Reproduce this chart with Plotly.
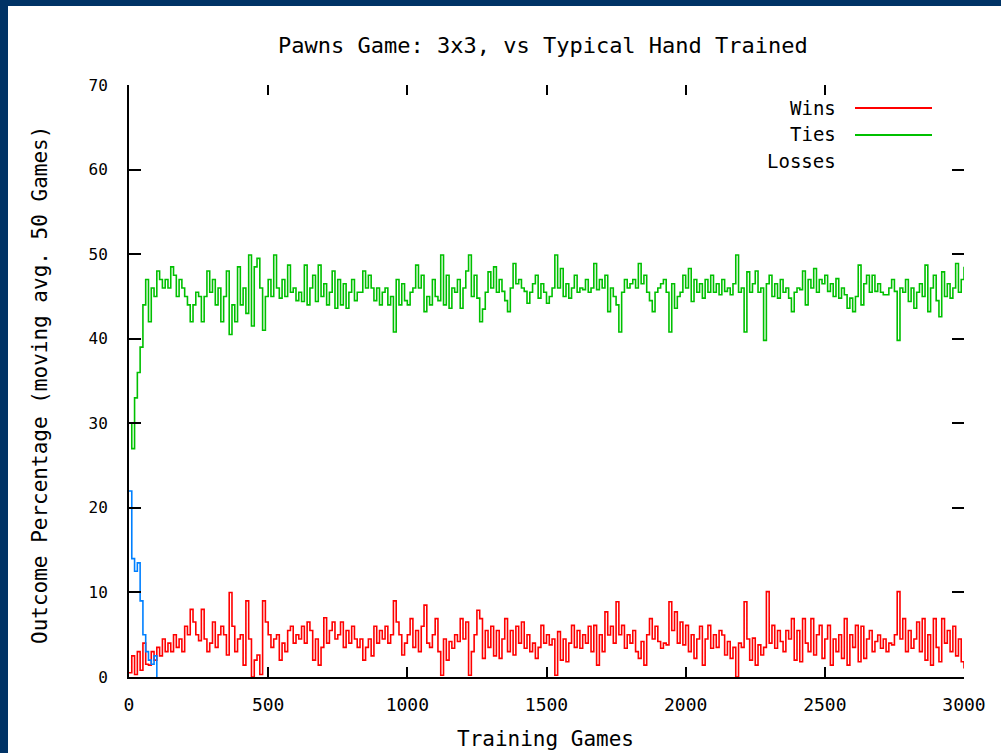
import plotly.graph_objects as go

# ---------------- data ----------------
games = list(range(0, 3001, 10))          # training games (x)
games_losses = list(range(0, 101, 10))

ties = [
    30, 27, 33, 36, 39, 44, 47, 42, 46, 45,
    48, 47, 46, 47, 46, 48.5, 47.5, 45, 47, 46,
    45, 44, 42, 44, 45.5, 45, 42, 45, 48, 45.5,
    47, 44, 46, 42, 45, 48, 40.5, 44, 42, 48.5,
    44, 46, 43, 49.9, 41.5, 48.5, 49.5, 46, 41, 45,
    47, 45, 49.9, 46, 44.8, 47, 45, 48.7, 45.5, 46,
    44.5, 45.5, 44.4, 48.7, 44, 46, 47.5, 44.4, 48.7, 45,
    46.5, 44, 45.5, 48, 43.6, 47, 44, 46.5, 43.6, 45.5,
    47, 44.5, 45.5, 45.5, 48, 46, 47.5, 46, 44.5, 46,
    44, 45.5, 46, 44, 45, 40.8, 47, 44, 46.5, 44.5,
    44, 45.5, 46, 48.7, 46, 47.5, 43.2, 45, 44, 47,
    45, 44.5, 49.9, 44, 47.5, 43.6, 46, 45.5, 47, 43.6,
    46, 48, 49.9, 45, 47.5, 44.8, 42, 43.5, 45.5, 47.9,
    46, 48.5, 45.5, 47, 45.6, 44.5, 43.2, 46, 48.9, 46.5,
    47, 46, 45.6, 44.2, 45.5, 46.5, 47.5, 44.8, 46.5, 45.5,
    44.2, 45, 46, 49.9, 46, 48.3, 45, 46.5, 44.8, 46,
    47.5, 45.5, 46, 45.8, 47, 45.5, 46, 48.9, 45.8, 47,
    46, 47.5, 43.2, 46, 45, 44, 40.8, 45.5, 47, 46,
    46.5, 47, 46, 48.9, 46.5, 47.5, 45.5, 44.5, 43.2, 45.5,
    46, 46.5, 47, 45.5, 40.8, 46.5, 43.6, 45, 45.5, 47.5,
    46, 48.3, 44.4, 47, 45.5, 46.5, 44.8, 47, 45.5, 47.5,
    45.5, 46.5, 45.2, 47, 45.6, 46, 45.2, 46.5, 49.9, 45.5,
    46, 40.8, 47.9, 45.5, 46.5, 48, 45.5, 46, 39.8, 46.5,
    47.5, 45, 46.5, 44.8, 47, 45.5, 46, 44.8, 43.2, 45.5,
    46, 45.8, 48, 44, 47, 46, 48.3, 45.5, 47, 46.5,
    47.5, 45.6, 46.5, 45, 47.1, 44.8, 46, 45.2, 43.6, 44.8,
    43.2, 45, 48.7, 44, 46.5, 47.5, 45.5, 47.5, 45.6, 46.5,
    45.5, 45.2, 45.2, 46, 47, 45.6, 39.8, 46, 45.5, 47,
    44.4, 46, 43.6, 45.5, 46.5, 45, 48.7, 43.2, 46, 47.5,
    44.5, 42.6, 47.9, 45, 46.5, 44.8, 46, 48.9, 45.5, 47,
    48.5,
]

wins = [
    0.5, 2.5, 0.3, 3, 0.8, 4, 1.5, 1.4, 3, 2,
    3.5, 2.5, 4.5, 3, 4, 3, 5, 3.5, 4.5, 3,
    6, 5, 8, 6.5, 5, 4.3, 8, 4.5, 3, 4,
    6.5, 3.5, 5, 6, 5, 2.6, 10, 6, 3, 4.5,
    5, 1.4, 9, 4.5, 0, 2, 2.6, 0.3, 9, 6.5,
    5, 3.5, 4.5, 5, 2, 4, 3, 5.5, 6, 4,
    5, 4.5, 6, 4, 6.5, 5.5, 2, 4.5, 1.4, 3.5,
    7, 4, 5.5, 6.5, 4.5, 5, 6.5, 3.5, 5.5, 4,
    6, 4.5, 3.5, 4.5, 2, 3.5, 4.5, 2.5, 6, 4,
    5.5, 4.5, 6, 4, 5, 9, 6.5, 5, 2.6, 4,
    5, 6.9, 3.5, 5.5, 3, 6, 8.5, 4, 3.5, 5,
    6.9, 3, 0.2, 4.5, 2, 4.2, 3.4, 5, 4.2, 6.9,
    4.5, 6.5, 0.2, 3, 5, 7.9, 6.9, 2.2, 5.5, 3.5,
    6, 2.5, 5.5, 2.2, 4.5, 6.9, 3, 5.5, 2.6, 6,
    4, 6.5, 3.4, 5, 3, 4, 2.2, 3.5, 6.1, 4,
    5, 3.8, 4.5, 0.2, 5.36, 2, 4.5, 1.8, 4, 6.1,
    3.5, 5.5, 3.4, 5, 4, 6, 3, 6.1, 1.4, 5,
    3, 7.7, 4.97, 6, 4, 8.9, 5, 6.1, 3.4, 5,
    4, 5.5, 3, 2.2, 4.2, 1.4, 5, 6.9, 4.5, 6,
    4.2, 3.4, 4, 3.8, 8.9, 5.5, 7.7, 4, 6.5, 3.8,
    6.1, 3, 5, 2.2, 4.5, 6, 1.4, 4.5, 6.1, 3.4,
    5, 3.5, 5.5, 4.97, 2.6, 4.2, 2.2, 3.5, 0, 4,
    3.5, 8.9, 4.5, 2, 4.6, 1.4, 3.8, 2.6, 3.5, 10.1,
    4, 6.1, 3.4, 5.5, 4.2, 3, 5.5, 4.5, 6.9, 2,
    5.5, 1.8, 6.9, 4, 3, 6.9, 2.6, 5, 6.1, 2.2,
    4.5, 6.1, 1.4, 4.5, 3, 5, 2.2, 6.9, 1.4, 5,
    3.5, 6.1, 1.8, 6, 2.2, 4.5, 5.5, 3, 4.2, 4.97,
    3.4, 4.5, 3, 4, 3.8, 5, 10.1, 4.5, 6.9, 3,
    5.5, 3.4, 4.5, 6.5, 3, 6.9, 2, 5, 1.4, 6.9,
    3.5, 1.8, 6.9, 4, 5.5, 3, 6, 2.5, 4.5, 1.8,
    1,
]

losses = [22, 14, 12.5, 13.5, 9, 5, 3, 2, 1.5, 2.5, 0]

x_ticks = [0, 500, 1000, 1500, 2000, 2500, 3000]
y_ticks = [0, 10, 20, 30, 40, 50, 60, 70]

title_text = "Pawns Game: 3x3, vs Typical Hand Trained"
x_title = "Training Games"
y_title = "Outcome Percentage (moving avg. 50 Games)"
series_names = ["Wins", "Ties", "Losses"]

RED, GREEN, BLUE = "#ff0000", "#00c000", "#0080ff"
BORDER = "#003366"
FONT = "DejaVu Sans Mono"

# ---------------- figure ----------------
fig = go.Figure()
line_style = dict(width=1.6, shape="hv")
fig.add_trace(go.Scatter(x=games, y=wins, mode="lines", name=series_names[0],
                         line=dict(color=RED, **line_style), showlegend=False))
fig.add_trace(go.Scatter(x=games, y=ties, mode="lines", name=series_names[1],
                         line=dict(color=GREEN, **line_style), showlegend=False))
fig.add_trace(go.Scatter(x=games_losses, y=losses, mode="lines", name=series_names[2],
                         line=dict(color=BLUE, **line_style), showlegend=False))
# invisible trace so the mirrored tick axes are drawn
fig.add_trace(go.Scatter(x=[None], y=[None], xaxis="x2", yaxis="y2",
                         showlegend=False, hoverinfo="skip"))

L, R, T, B = 129, 37, 85, 76
W, H = 1001, 753
pw, ph = W - L - R, H - T - B


def px(xp):
    return (xp - L) / pw


def py(yp):
    return (H - B - yp) / ph


fig.update_layout(
    width=W, height=H,
    margin=dict(l=L, r=R, t=T, b=B),
    paper_bgcolor="white", plot_bgcolor="white",
    font=dict(family=FONT, color="black"),
    xaxis=dict(range=[0, 3000], tickvals=x_ticks, ticktext=[str(v) for v in x_ticks],
               showgrid=False, zeroline=False, showline=True, linecolor="black",
               linewidth=2, ticks="inside", ticklen=10, tickwidth=2, tickcolor="black",
               tickfont=dict(size=18, family=FONT), ticklabelstandoff=10),
    yaxis=dict(range=[0, 70], tickvals=y_ticks, ticktext=[str(v) for v in y_ticks],
               showgrid=False, zeroline=False, showline=True, linecolor="black",
               linewidth=2, ticks="inside", ticklen=12, tickwidth=2, tickcolor="black",
               tickfont=dict(size=16, family=FONT), ticklabelstandoff=16),
    xaxis2=dict(overlaying="x", side="top", anchor="y", range=[0, 3000],
                tickvals=x_ticks, ticks="inside", ticklen=10, tickwidth=2,
                tickcolor="black", showticklabels=False, showline=False,
                showgrid=False, zeroline=False),
    yaxis2=dict(overlaying="y", side="right", anchor="x", range=[0, 70],
                tickvals=y_ticks, ticks="inside", ticklen=12, tickwidth=2,
                tickcolor="black", showticklabels=False, showline=False,
                showgrid=False, zeroline=False),
    showlegend=False,
)

annotations = [
    dict(text=title_text, x=px(543), y=py(45), xref="paper", yref="paper",
         showarrow=False, font=dict(size=22, family=FONT), xanchor="center", yanchor="middle"),
    dict(text=x_title, x=px(545), y=py(739), xref="paper", yref="paper",
         showarrow=False, font=dict(size=21, family=FONT), xanchor="center", yanchor="middle"),
    dict(text=y_title, x=px(40), y=py(385), xref="paper", yref="paper", textangle=-90,
         showarrow=False, font=dict(size=21, family=FONT), xanchor="center", yanchor="middle"),
]
legend_y = [108, 134, 161]
for name, yy in zip(series_names, legend_y):
    annotations.append(dict(text=name, x=px(838), y=py(yy), xref="paper", yref="paper",
                            showarrow=False, font=dict(size=19, family=FONT),
                            xanchor="right", yanchor="middle"))
fig.update_layout(annotations=annotations)

shapes = [
    # legend samples
    dict(type="line", xref="paper", yref="paper", x0=px(855), x1=px(932),
         y0=py(108), y1=py(108), line=dict(color=RED, width=2)),
    dict(type="line", xref="paper", yref="paper", x0=px(855), x1=px(932),
         y0=py(135), y1=py(135), line=dict(color=GREEN, width=2)),
    # dark blue frame (top and left)
    dict(type="rect", xref="paper", yref="paper", x0=px(-5), x1=px(8),
         y0=py(H + 5), y1=py(-5), fillcolor=BORDER, line=dict(width=0), layer="above"),
    dict(type="rect", xref="paper", yref="paper", x0=px(-5), x1=px(W + 5),
         y0=py(6), y1=py(-5), fillcolor=BORDER, line=dict(width=0), layer="above"),
]
fig.update_layout(shapes=shapes)

fig.write_html("out.html")
